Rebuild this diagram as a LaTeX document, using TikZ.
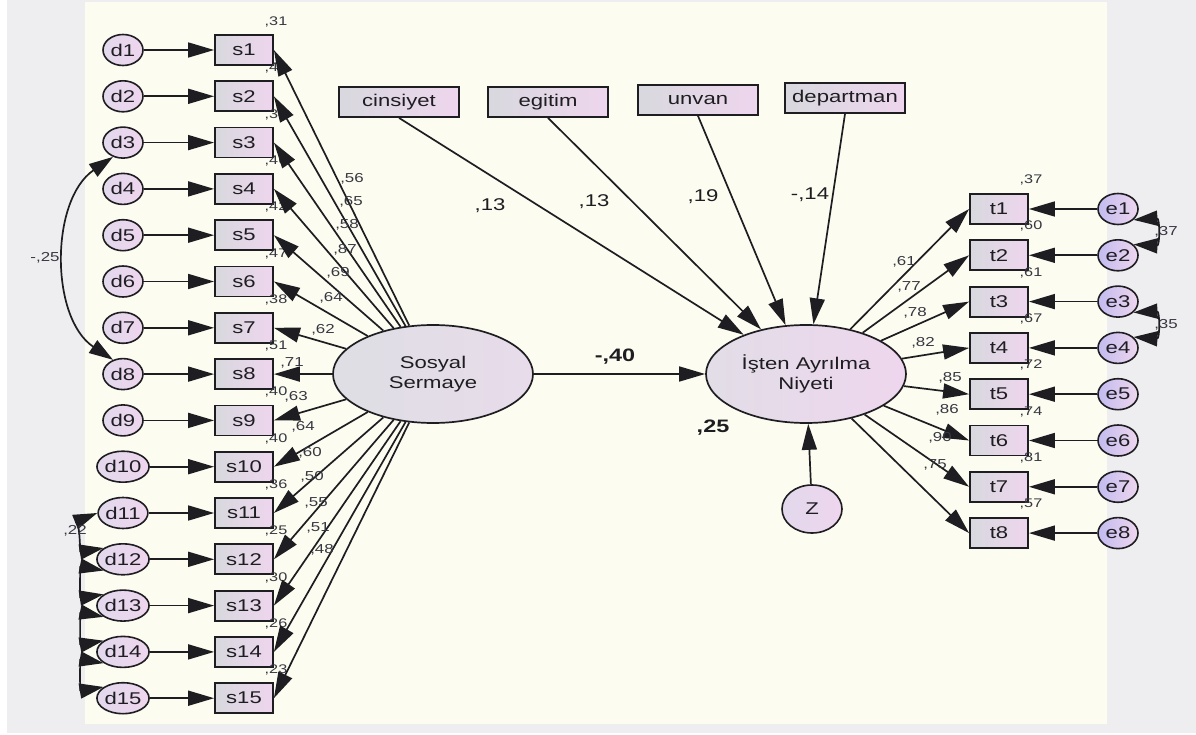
\documentclass[tikz,border=0pt]{standalone}
\usepackage{fontspec}
\setmainfont{Liberation Sans}[FakeStretch=1.3]
\usetikzlibrary{shapes.geometric,arrows.meta}
\definecolor{bgivory}{RGB}{252,252,240}
\definecolor{bggray}{RGB}{238,238,240}
\definecolor{boxl}{RGB}{216,216,222}
\definecolor{boxr}{RGB}{238,214,238}
\definecolor{cirl}{RGB}{226,216,236}
\definecolor{cirr}{RGB}{238,214,238}
\definecolor{latl}{RGB}{222,222,228}
\definecolor{latr}{RGB}{232,220,234}
\definecolor{ink}{RGB}{30,30,34}
\definecolor{lblc}{RGB}{55,55,65}
\newcommand\fsNode{\fontsize{17}{20}\selectfont}
\newcommand\fsSmall{\fontsize{12.5}{14}\selectfont}
\newcommand\fsLoad{\fontsize{13}{15}\selectfont}
\newcommand\fsPath{\fontsize{17}{20}\selectfont}
\newcommand\fsBold{\fontsize{18}{21}\selectfont\bfseries}
\tikzset{
  obs/.style={draw=ink, line width=1.8pt, minimum width=58pt, minimum height=30pt, inner sep=0pt,
    left color=boxl, right color=boxr, font=\fsNode, text=ink},
  topbox/.style={obs, minimum width=120pt},
  errc/.style={ellipse, draw=ink, line width=1.6pt, minimum width=40pt, minimum height=31pt, inner sep=0pt,
    left color=cirl, right color=cirr, font=\fsNode, text=ink},
  latent/.style={ellipse, draw=ink, line width=1.7pt, minimum width=200pt, minimum height=98pt, inner sep=0pt,
    left color=latl, right color=latr, font=\fsNode, text=ink, align=center},
  arr/.style={draw=ink, line width=1.7pt, -{Triangle[length=26pt,width=15pt]}},
  dbl/.style={draw=ink, line width=1.7pt, {Triangle[length=24pt,width=15pt]}-{Triangle[length=24pt,width=15pt]}},
  rlab/.style={font=\fsSmall, text=lblc, inner sep=0pt},
  llab/.style={font=\fsLoad, text=lblc, inner sep=0pt},
  plab/.style={font=\fsPath, text=ink, inner sep=0pt},
  blab/.style={font=\fsBold, text=ink, inner sep=0pt}
}
\begin{document}
\begin{tikzpicture}[x=1pt,y=1pt]
\useasboundingbox (0,0) rectangle (1196,-735);
\fill[white] (0,0) rectangle (1196,-735);
\fill[bggray] (7,0) rectangle (1196,-733);
\fill[bgivory] (85,-2) rectangle (1107,-724);

% left indicators
\foreach \i in {1,...,15}{
  \pgfmathsetmacro{\yy}{-50-(\i-1)*46.3}
  \node[errc] (d\i) at (123,\yy) {d\i};
  \node[obs] (s\i) at (244,\yy) {s\i};
}
% right indicators
\foreach \i in {1,...,8}{
  \pgfmathsetmacro{\yy}{-209-(\i-1)*46.3}
  \node[obs] (t\i) at (999,\yy) {t\i};
  \node[errc, left color=cirl!85!blue!96, right color=cirr] (e\i) at (1118,\yy) {e\i};
}
% latents
\node[latent] (ss) at (433,-374) {Sosyal\\Sermaye};
\node[latent, left color=latl!60!latr, right color=boxr] (ia) at (806,-374) {İşten Ayrılma\\Niyeti};
\node[errc, minimum width=60pt, minimum height=48pt] (z) at (812,-509) {Z};
% exogenous boxes
\node[topbox] (cins) at (399,-102) {cinsiyet};
\node[topbox] (egit) at (548,-102) {egitim};
\node[topbox] (unv) at (698,-100) {unvan};
\node[topbox] (dep) at (845,-98) {departman};

% R2 labels for s
\foreach \i/\v in {1/31,2/42,3/34,4/46,5/42,6/47,7/38,8/51,9/40,10/40,11/36,12/25,13/30,14/26,15/23}{
  \node[rlab] (rs\i) at (276,{-22-(\i-1)*46.3}) {,\v};
}
% R2 labels for t
\foreach \i/\v in {1/37,2/60,3/61,4/67,5/72,6/74,7/81,8/57}{
  \node[rlab] (rt\i) at (1031,{-180-(\i-1)*46.3}) {,\v};
}

% arrows d -> s
\foreach \i in {1,...,15}{
  \draw[arr] (d\i) -- (s\i);
}
% arrows e -> t
\foreach \i in {1,...,8}{
  \draw[arr] (e\i) -- (t\i);
}
% loadings ss -> s
\foreach \i in {1,...,15}{
  \draw[arr] (ss) -- (s\i.east);
}
% loadings ia -> t
\foreach \i in {1,...,8}{
  \draw[arr] (ia) -- (t\i.west);
}
% structural paths
\draw[arr] (ss) -- (ia);
\draw[arr] (cins.south) -- (ia);
\draw[arr] (egit.south) -- (ia);
\draw[arr] (unv.south) -- (ia);
\draw[arr] (dep.south) -- (ia);
\draw[arr] (z) -- (ia);

% covariances
\draw[dbl] (d3.235) .. controls (50,-200) and (50,-318) .. (d8.125);
\draw[dbl] (d11.west) .. controls (80,-520) and (80,-552) .. (d12.150);
\draw[dbl] (d12.210) .. controls (80,-566) and (80,-598) .. (d13.150);
\draw[dbl] (d13.210) .. controls (80,-612) and (80,-645) .. (d14.150);
\draw[dbl] (d14.210) .. controls (80,-659) and (80,-691) .. (d15.150);
\draw[dbl] (e1.-35) .. controls (1160,-218) and (1160,-246) .. (e2.35);
\draw[dbl] (e3.-35) .. controls (1160,-311) and (1160,-339) .. (e4.35);

% loading labels left
\foreach \i/\v/\x/\y in {1/56/352/179,2/65/351/202,3/58/347/225,4/87/345/250,5/69/338/273,6/64/331/298,7/62/323/330,8/71/292/363,9/63/296/397,10/64/303/427,11/60/310/453,12/50/312/477,13/55/316/503,14/51/318/528,15/48/322/550}{
  \node[llab] (ls\i) at (\x,-\y) {,\v};
}
% loading labels right
\foreach \i/\v/\x/\y in {1/61/904/262,2/77/909/287,3/78/915/313,4/82/923/343,5/85/950/378,6/86/947/410,7/90/940/438,8/75/935/465}{
  \node[llab] (lt\i) at (\x,-\y) {,\v};
}
% path labels
\node[plab] (pc) at (490,-206) {,13};
\node[plab] (pe) at (594,-202) {,13};
\node[plab] (pu) at (703,-197) {,19};
\node[plab] (pd) at (810,-195) {-,14};
\node[blab] (pss) at (615,-357) {-,40};
\node[blab] (pr2) at (713,-428) {,25};
% covariance labels
\node[llab] (c38) at (45,-258) {-,25};
\node[llab] (c1112) at (75,-531) {,22};
\node[llab] (c12e) at (1166,-232) {,37};
\node[llab] (c34e) at (1166,-325) {,35};
\end{tikzpicture}
\end{document}
